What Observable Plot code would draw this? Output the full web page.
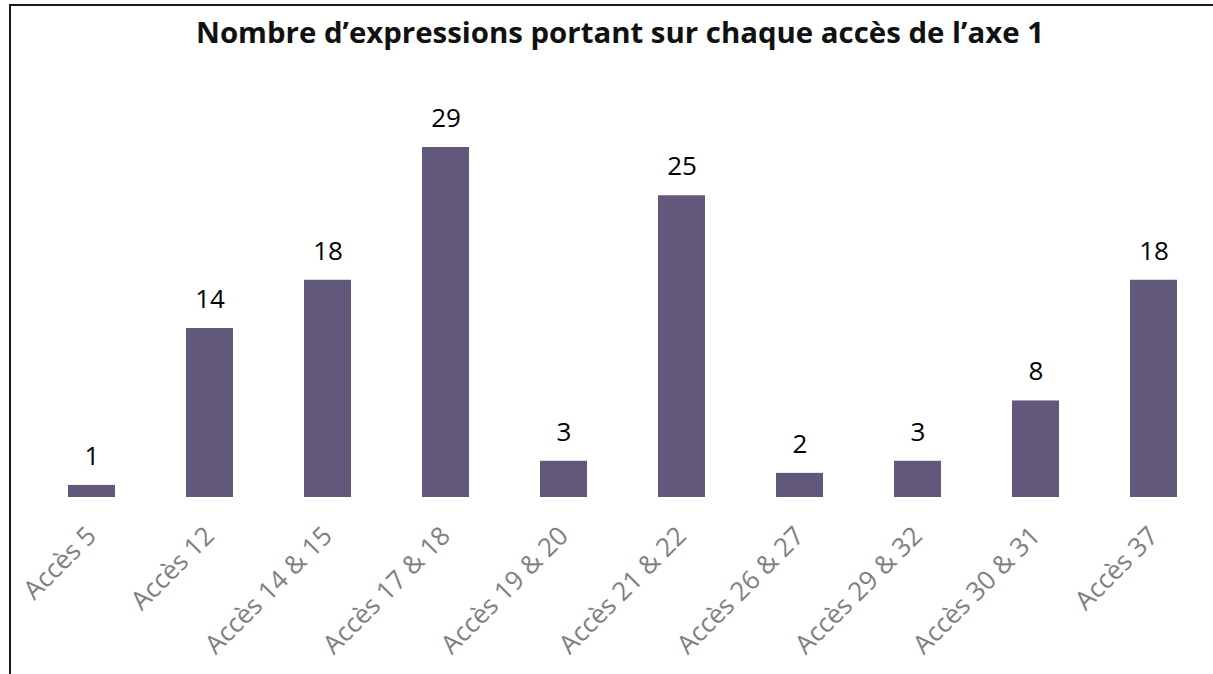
<!DOCTYPE html>
<html>
<head>
<meta charset="utf-8">
<script src="https://cdn.jsdelivr.net/npm/d3@7"></script>
<script src="https://cdn.jsdelivr.net/npm/@observablehq/plot@0.6"></script>
<style>
  html, body { margin: 0; padding: 0; background: #fff; }
  #wrap { position: relative; width: 1213px; height: 674px; overflow: hidden; }
  #frame { position: absolute; left: 9px; top: 4px; width: 1210px; height: 700px;
           border-left: 2px solid #1a1a1a; border-top: 2px solid #1a1a1a; box-sizing: border-box; }
  #title { position: absolute; left: 0; top: 2px; width: 1213px; height: 60px; text-align: center;
           font-family: "Open Sans", sans-serif; font-weight: bold; font-size: 29.4px; line-height: 60px;
           color: #111; padding-left: 27px; box-sizing: border-box; }
  #chart { position: absolute; left: 0; top: 60px; }
</style>
</head>
<body>
<div id="wrap">
  <div id="title">Nombre d’expressions portant sur chaque accès de l’axe 1</div>
  <div id="chart"></div>
  <div id="frame"></div>
</div>
<script>
const categories = ["Accès 5", "Accès 12", "Accès 14 & 15", "Accès 17 & 18", "Accès 19 & 20",
                    "Accès 21 & 22", "Accès 26 & 27", "Accès 29 & 32", "Accès 30 & 31", "Accès 37"];
const values = [1, 14, 18, 29, 3, 25, 2, 3, 8, 18];

const data = categories.map((c, i) => ({cat: c, v: values[i]}));

const chart = Plot.plot({
  width: 1213,
  height: 614,
  marginLeft: 33,
  marginRight: 0,
  marginTop: 87,
  marginBottom: 177,
  style: {fontFamily: "Open Sans, sans-serif", background: "transparent"},
  x: {domain: categories, paddingInner: 0.6, paddingOuter: 0.3, label: null},
  y: {domain: [0, 29], axis: null},
  marks: [
    Plot.barY(data, {x: "cat", y: "v", fill: "#62587b"}),
    Plot.text(data, {x: "cat", y: "v", text: d => String(d.v), dy: -29, fontSize: 26, fill: "#000"}),
    Plot.axisX({tickSize: 0, tickRotate: -45, tickPadding: 34, fontSize: 26, fill: "#808080", label: null})
  ]
});
document.getElementById("chart").appendChild(chart);
</script>
</body>
</html>
